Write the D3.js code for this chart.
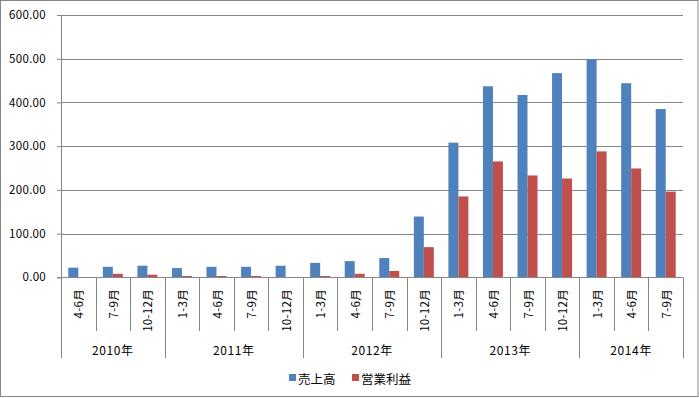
<!DOCTYPE html>
<html><head><meta charset="utf-8">
<script src="https://cdn.jsdelivr.net/npm/d3@7"></script>
<style>
html,body{margin:0;padding:0;background:#fff;}
svg{display:block;font-family:"Noto Sans CJK JP","Noto Sans",sans-serif;}
</style></head>
<body>
<svg id="c" width="699" height="398"></svg>
<script>
const years = ["2010年","2011年","2012年","2013年","2014年"];
const quarterYears = [0,0,0,1,1,1,1,2,2,2,2,3,3,3,3,4,4,4];
const quarters = ["4-6月","7-9月","10-12月","1-3月","4-6月","7-9月","10-12月","1-3月","4-6月","7-9月","10-12月","1-3月","4-6月","7-9月","10-12月","1-3月","4-6月","7-9月"];
const seriesNames = ["売上高","営業利益"];
const sales = [22,24,26.5,21,24,24,26.5,33,37,44,139,308,437,417,467,499,444,385];
const profit = [0,8,6,3,3,3,0.5,3,8,14.5,69,185,265,233,226,288,249,196];
const yTicks = [0,100,200,300,400,500,600];
const colors = ["#4F81BD","#C0504D"];

const svg = d3.select("#c");
const W=699,H=398;
const m = {left:61, right:683, top:15, bottom:277.3};

svg.append("rect").attr("x",0.5).attr("y",0.5).attr("width",W-1.5).attr("height",H-2)
  .attr("fill","#fff").attr("stroke","#868686").attr("stroke-width",1);

const idx = d3.range(quarters.length);
const x0 = d3.scaleBand().domain(idx).range([m.left,m.right]).padding(0);
const x1 = d3.scaleBand().domain(seriesNames).range([0,x0.bandwidth()]).paddingInner(0).paddingOuter(0.73);
const y = d3.scaleLinear().domain([0,600]).range([m.bottom,m.top]);

const yAxis = d3.axisLeft(y).tickValues(yTicks).tickFormat(d3.format(".2f")).tickSize(4).tickPadding(11);
const gy = svg.append("g").attr("transform",`translate(${m.left},0)`).call(yAxis);
gy.select(".domain").attr("stroke","#868686");
gy.selectAll(".tick line").attr("stroke","#868686");
gy.selectAll(".tick text").attr("font-size",11.5).attr("fill","#000").attr("letter-spacing",0.3).attr("font-family","'Noto Sans CJK JP',sans-serif");

svg.append("g").selectAll("line").data(yTicks.filter(d=>d>0)).join("line")
  .attr("x1",m.left).attr("x2",m.right).attr("y1",d=>Math.round(y(d))+0.5).attr("y2",d=>Math.round(y(d))+0.5)
  .attr("stroke","#868686").attr("stroke-width",1);

const data = idx.map(i=>({i, vals:[sales[i],profit[i]]}));
const g = svg.append("g");
g.selectAll("g").data(data).join("g").attr("transform",d=>`translate(${x0(d.i)},0)`)
  .selectAll("rect").data(d=>d.vals.map((v,k)=>({v,k}))).join("rect")
  .attr("x",d=>x1(seriesNames[d.k])).attr("width",x1.bandwidth())
  .attr("y",d=>y(d.v)).attr("height",d=>y(0)-y(d.v))
  .attr("fill",d=>colors[d.k]);

svg.append("line").attr("x1",m.left).attr("x2",m.right).attr("y1",277.5).attr("y2",277.5).attr("stroke","#868686");

const yearStart = years.map((_,k)=>quarterYears.indexOf(k));
const bounds = d3.range(quarters.length+1);
svg.append("g").selectAll("line").data(bounds).join("line")
  .attr("x1",b=>Math.round(b<quarters.length?x0(b):m.right)+0.5)
  .attr("x2",b=>Math.round(b<quarters.length?x0(b):m.right)+0.5)
  .attr("y1",277.5)
  .attr("y2",b=>(b===quarters.length||yearStart.includes(b))?358:331)
  .attr("stroke","#868686");

svg.append("g").selectAll("text").data(idx).join("text")
  .attr("transform",i=>`translate(${x0(i)+x0.bandwidth()/2},289) rotate(-90)`)
  .attr("text-anchor","end").attr("dominant-baseline","central")
  .attr("font-size",11.5).attr("letter-spacing",0.3).attr("fill","#000").text(i=>quarters[i]);

svg.append("g").selectAll("text").data(years).join("text")
  .attr("x",(d,k)=>{const s=yearStart[k]; const e=k<years.length-1?yearStart[k+1]:quarters.length;
      const xs=x0(s), xe = e<quarters.length?x0(e):m.right; return (xs+xe)/2;})
  .attr("y",349).attr("text-anchor","middle").attr("dominant-baseline","central")
  .attr("font-size",12).attr("letter-spacing",0.6).attr("fill","#000").text(d=>d);

const legX=[289,352];
const leg = svg.append("g");
seriesNames.forEach((s,k)=>{
  leg.append("rect").attr("x",legX[k]).attr("y",374).attr("width",7).attr("height",7).attr("fill",colors[k]);
  leg.append("text").attr("x",legX[k]+9).attr("y",378).attr("dominant-baseline","central")
    .attr("font-size",12.5).attr("fill","#000").text(s);
});
</script>
</body></html>
